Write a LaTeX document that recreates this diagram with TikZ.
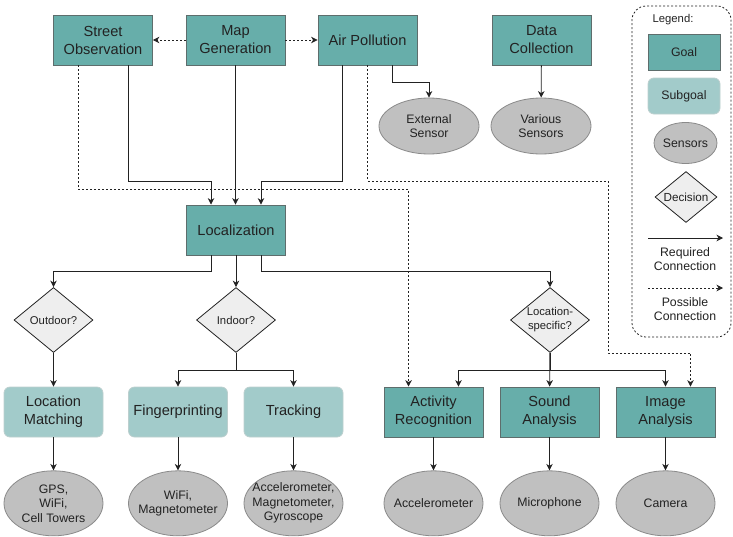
\documentclass[tikz,border=0pt]{standalone}
\usepackage{fontspec}
\setmainfont{Liberation Sans}
\usetikzlibrary{shapes.geometric,arrows.meta,calc,positioning}

\definecolor{goalfill}{HTML}{67AEAA}
\definecolor{goalline}{HTML}{5E6D6C}
\definecolor{subfill}{HTML}{A2CBCA}
\definecolor{subline}{HTML}{BCCFCE}
\definecolor{sensfill}{HTML}{C0C0C0}
\definecolor{sensline}{HTML}{8A8A8A}
\definecolor{decfill}{HTML}{EEEEEE}
\definecolor{inkdark}{HTML}{222222}

\newcommand{\bigtext}{\fontsize{14.6}{18}\selectfont}
\newcommand{\midtext}{\fontsize{12.3}{14.5}\selectfont}
\newcommand{\smalltext}{\fontsize{11.3}{14}\selectfont}

\tikzset{
	goal/.style={rectangle,draw=goalline,fill=goalfill,minimum width=99pt,minimum height=50pt,align=center,font=\bigtext,text=inkdark},
	subgoal/.style={rectangle,rounded corners=6pt,draw=subline,fill=subfill,minimum width=99pt,minimum height=50pt,align=center,font=\bigtext,text=inkdark},
	sensor/.style={ellipse,draw=sensline,fill=sensfill,minimum width=99pt,minimum height=65pt,inner xsep=-12pt,inner ysep=0pt,align=center,font=\midtext,text=inkdark},
	decision/.style={diamond,draw=inkdark,fill=decfill,minimum width=79pt,minimum height=65pt,inner sep=-5pt,align=center,font=\smalltext,text=inkdark},
	req/.style={draw=inkdark,->},
	poss/.style={draw=inkdark,dash pattern=on 2pt off 2pt,->},
	legendframe/.style={draw=inkdark,dash pattern=on 2pt off 2pt,rounded corners=14pt,minimum width=99pt,minimum height=331pt},
}

\begin{document}
\begin{tikzpicture}[x=1pt,y=-1pt,line width=0.8pt,>={Stealth[length=6.5pt,width=6.5pt,inset=2pt]}]
	
	\useasboundingbox (0,0) rectangle (733,536);
	
	%%%%%%%%%%%%%%%%%%%%%%%%%%%%%%%%%%%%%%%%%%%%%%%%%%%%%%
	
	\node [goal] (street) at (103,40) {Street\\Observation};
	\node [goal] (mapgen) at (235.5,40) {Map\\Generation};
	\node [goal] (airpol) at (367.5,40) {Air Pollution};
	\node [goal] (datacol) at (541.5,40) {Data\\Collection};
	
	\node [sensor,minimum width=100pt,minimum height=56pt] (extsensor) at (429,126) {External\\Sensor};
	\node [sensor,minimum width=100pt,minimum height=56pt] (varsensors) at (541,126) {Various\\Sensors};
	
	\node [goal] (loc) at (236,230) {Localization};
	
	%%%%%%%%%%%%%%%%%%%%%%%%%%%%%%%%%%%%%%%%%%%%%%%%%%%%%%
	
	\node [decision] (outdoor) at (53.5,320) {Outdoor?};
	\node [decision] (indoor) at (236,320) {Indoor?};
	\node [decision] (locspec) at (550,320) {Location-\\specific?};
	
	\node [subgoal] (locmatch) at (53.5,412) {Location\\Matching};
	\node [subgoal] (finger) at (178,412) {Fingerprinting};
	\node [subgoal] (tracking) at (293.5,412) {Tracking};
	\node [goal] (activity) at (433.5,412) {Activity\\Recognition};
	\node [goal] (sound) at (549.5,412) {Sound\\Analysis};
	\node [goal] (image) at (665.5,412) {Image\\Analysis};
	
	\node [sensor,below=33pt of locmatch] (gps) {GPS,\\WiFi,\\Cell Towers};
	\node [sensor,below=33pt of finger] (wifimag) {WiFi,\\Magnetometer};
	\node [sensor,below=33pt of tracking] (accmaggyr) {Accelerometer,\\Magnetometer,\\Gyroscope};
	\node [sensor,below=33pt of activity] (accel) {Accelerometer};
	\node [sensor,below=33pt of sound] (micro) {Microphone};
	\node [sensor,below=33pt of image] (camera) {Camera};
	
	%%%%%%%%%%%%%%%%%%%%%%%%%%%%%%%%%%%%%%%%%%%%%%%%%%%%%%
	
	\coordinate (street-left) at ($(street.south)!.5!(street.south west)$);
	\coordinate (street-right) at ($(street.south)!.5!(street.south east)$);
	\coordinate (airpol-left) at ($(airpol.south)!.5!(airpol.south west)$);
	\coordinate (airpol-right) at ($(airpol.south)!.5!(airpol.south east)$);
	\coordinate (loc-in-left) at ($(loc.north)!.5!(loc.north west)$);
	\coordinate (loc-in-right) at ($(loc.north)!.5!(loc.north east)$);
	\coordinate (loc-out-left) at ($(loc.south)!.5!(loc.south west)$);
	\coordinate (loc-out-right) at ($(loc.south)!.5!(loc.south east)$);
	\coordinate (activity-left) at ($(activity.north)!.5!(activity.north west)$);
	\coordinate (activity-right) at ($(activity.north)!.5!(activity.north east)$);
	\coordinate (image-right) at ($(image.north)!.5!(image.north east)$);
	
	\coordinate (bus-top) at (0,181);
	\coordinate (bus-dotted) at (0,189);
	\coordinate (bus-ext) at (0,82);
	\coordinate (bus-loc) at (0,271);
	\coordinate (bus-sub) at (0,370);
	\coordinate (dotted-turn) at (608,353);
	
	%%%%%%%%%%%%%%%%%%%%%%%%%%%%%%%%%%%%%%%%%%%%%%%%%%%%%%
	
	\draw [poss] (mapgen) -- (street);
	\draw [poss] (mapgen) -- (airpol);
	\draw [req] (airpol-right) -- (airpol-right |- bus-ext) -| (extsensor);
	\draw [req] (datacol) -- (varsensors);
	
	\draw [req] (street-right) -- (street-right |- bus-top) -| (loc-in-left);
	\draw [req] (mapgen) -- (mapgen.south |- loc.north);
	\draw [req] (airpol-left) -- (airpol-left |- bus-top) -| (loc-in-right);
	
	\draw [poss] (street-left) -- (street-left |- bus-dotted) -| (activity-left);
	\draw [poss] (airpol.south) -- (airpol.south |- bus-top) -| (dotted-turn) -| (image-right);
	
	%%%%%%%%%%%%%%%%%%%%%%%%%%%%%%%%%%%%%%%%%%%%%%%%%%%%%%
	
	\draw [req] (loc-out-left) -- (loc-out-left |- bus-loc) -| (outdoor);
	\draw [req] (loc) -- (indoor);
	\draw [req] (loc-out-right) -- (loc-out-right |- bus-loc) -| (locspec);
	
	\draw [req] (outdoor) -- (locmatch);
	\draw [req] (indoor.south) -- (indoor.south |- bus-sub) -| (finger);
	\draw [req] (indoor.south) -- (indoor.south |- bus-sub) -| (tracking);
	\draw [req] (locspec.south) -- (locspec.south |- bus-sub) -| (activity-right);
	\draw [req] (locspec) -- (sound);
	\draw [req] (locspec.south) -- (locspec.south |- bus-sub) -| (image);
	
	\draw [req] (locmatch) -- (gps);
	\draw [req] (finger) -- (wifimag);
	\draw [req] (tracking) -- (accmaggyr);
	\draw [req] (activity) -- (accel);
	\draw [req] (sound) -- (micro);
	\draw [req] (image) -- (camera);
	
	%%%%%%%%%%%%%%%%%%%%%%%%%%%%%%%%%%%%%%%%%%%%%%%%%%%%%%
	
	\node [legendframe] (legend) at (681.5,171.5) {};
	\node [font=\smalltext,text=inkdark] (legend-title) at (673,20) {Legend:};
	\node [goal,minimum width=72pt,minimum height=36pt,font=\midtext] (key-goal) at (684,52) {Goal};
	\node [subgoal,minimum width=72pt,minimum height=36pt,font=\midtext] (key-subgoal) at (684,96) {Subgoal};
	\node [sensor,minimum width=63pt,minimum height=41pt] (key-sensor) at (685.5,143) {Sensors};
	\node [decision,minimum width=62pt,minimum height=51pt,font=\fontsize{11.7}{14}\selectfont] (key-decision) at (686,197) {Decision};
	
	\coordinate (key-req-start) at (648,238);
	\coordinate (key-req-end) at (723,238);
	\draw [req] (key-req-start) -- (key-req-end);
	\node [font=\midtext,text=inkdark,align=center] (key-req-text) at (685,259) {Required\\Connection};
	
	\coordinate (key-poss-start) at (648,288);
	\coordinate (key-poss-end) at (723,288);
	\draw [poss] (key-poss-start) -- (key-poss-end);
	\node [font=\midtext,text=inkdark,align=center] (key-poss-text) at (685,309) {Possible\\Connection};
	
\end{tikzpicture}
\end{document}
